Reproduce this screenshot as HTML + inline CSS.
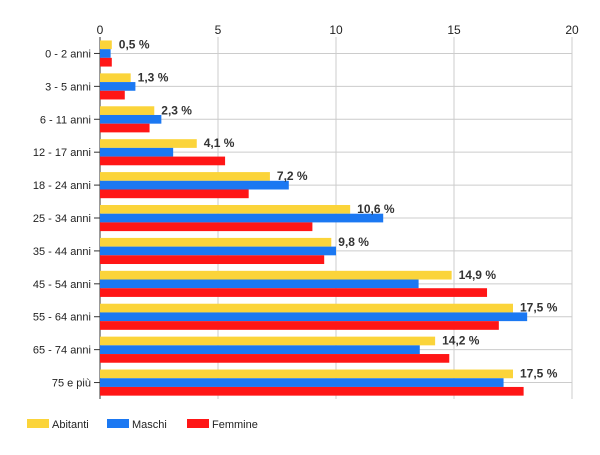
<!DOCTYPE html>
<html><head><meta charset="utf-8"><style>
body{margin:0;background:#fff;font-family:"Liberation Sans",Arial,sans-serif}
svg text{font-family:"Liberation Sans",Arial,sans-serif}
</style></head><body>
<svg id="c" width="600" height="450"></svg>
<script>
const categories=["0 - 2 anni","3 - 5 anni","6 - 11 anni","12 - 17 anni","18 - 24 anni","25 - 34 anni","35 - 44 anni","45 - 54 anni","55 - 64 anni","65 - 74 anni","75 e più"];
const abitanti=[0.5,1.3,2.3,4.1,7.2,10.6,9.8,14.9,17.5,14.2,17.5];
const maschi=[0.45,1.5,2.6,3.1,8.0,12.0,10.0,13.5,18.1,13.55,17.1];
const femmine=[0.5,1.05,2.1,5.3,6.3,9.0,9.5,16.4,16.9,14.8,17.95];
const labels=["0,5 %","1,3 %","2,3 %","4,1 %","7,2 %","10,6 %","9,8 %","14,9 %","17,5 %","14,2 %","17,5 %"];
const ticks=[0,5,10,15,20];
const seriesNames=["Abitanti","Maschi","Femmine"];
const colors=["#fbd43a","#1b78f2","#ff1616"];
const svg=document.getElementById('c');const NS='http://www.w3.org/2000/svg';
const X0=100,X1=572,Y0=37,Y1=399,MAX=20;
const x=v=>X0+(X1-X0)*v/MAX;
const rowH=(Y1-Y0)/categories.length;
const yc=i=>Y0+rowH*(i+0.5);
function mk(t,a,p){const e=document.createElementNS(NS,t);for(const k in a)e.setAttribute(k,a[k]);(p||svg).appendChild(e);return e;}
ticks.forEach(t=>{
 const l=mk('line',{x1:x(t),x2:x(t),y1:Y0,y2:Y1,stroke:'#ccc'});
 
 
 const tx=mk('text',{x:x(t),y:34,'text-anchor':'middle','font-size':12,fill:'#222'});tx.textContent=t;
 
 
});
categories.forEach((c,i)=>{
 const g=mk('line',{x1:X0,x2:X1,y1:yc(i),y2:yc(i),stroke:'#ccc'});
 
 
 mk('line',{x1:X0-6,x2:X0,y1:yc(i),y2:yc(i),stroke:'#333'});
 const t=mk('text',{x:X0-9,y:yc(i)+4,'text-anchor':'end','font-size':11,fill:'#222'});t.textContent=c;
 
 
});
mk('line',{x1:X0,x2:X0,y1:Y0,y2:Y1,stroke:'#333'});
const bh=8.7;
[abitanti,maschi,femmine].forEach((s,si)=>{
 s.forEach((v,i)=>{
  const r=mk('rect',{x:X0,y:yc(i)-13+si*bh,width:x(v)-X0,height:bh,fill:colors[si]});
  
  
 });
});
abitanti.forEach((v,i)=>{
 const t=mk('text',{x:x(v)+7,y:yc(i)-5,'font-size':12,'font-weight':'bold',fill:'#333'});t.textContent=labels[i];
 
 
});
const lx=[27,107,187];
seriesNames.forEach((n,i)=>{
 const r=mk('rect',{x:lx[i],y:419,width:22,height:9,fill:colors[i]});
 
 
 const t=mk('text',{x:lx[i]+25,y:428,'font-size':11,fill:'#222'});t.textContent=n;
 
 
});
</script>
</body></html>
